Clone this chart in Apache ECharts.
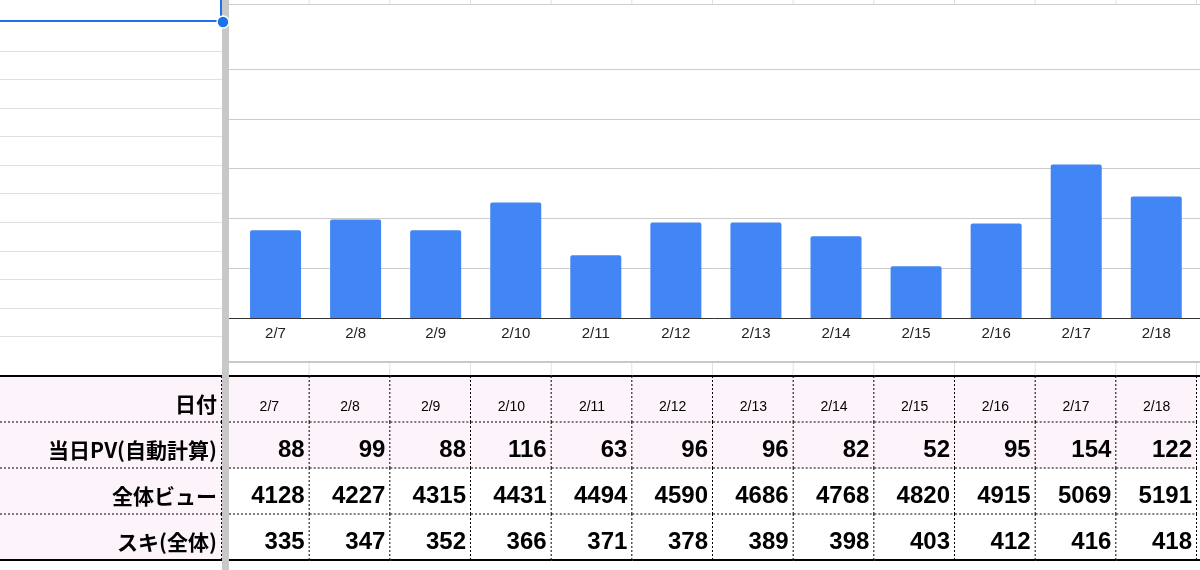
<!DOCTYPE html>
<html>
<head>
<meta charset="utf-8">
<script src="https://cdn.jsdelivr.net/npm/echarts@6.0.0/dist/echarts.min.js"></script>
<style>
  html, body { margin: 0; padding: 0; background: #fff; }
  #main { width: 1200px; height: 570px; }
</style>
</head>
<body>
<div id="main"></div>
<script>
// 日付
var dates = ['2/7', '2/8', '2/9', '2/10', '2/11', '2/12', '2/13', '2/14', '2/15', '2/16', '2/17', '2/18'];
// 当日PV(自動計算)
var dailyPV = [88, 99, 88, 116, 63, 96, 96, 82, 52, 95, 154, 122];
// 全体ビュー
var totalViews = [4128, 4227, 4315, 4431, 4494, 4590, 4686, 4768, 4820, 4915, 5069, 5191];
// スキ(全体)
var totalSuki = [335, 347, 352, 366, 371, 378, 389, 398, 403, 412, 416, 418];
// 表の行見出し
var rowLabels = ['日付', '当日PV(自動計算)', '全体ビュー', 'スキ(全体)'];
// 縦軸の目盛り (0〜250, 50刻み)
var pvTicks = [0, 50, 100, 150, 200, 250];

var tableRows = [dates, dailyPV, totalViews, totalSuki];

var PINK = '#fcf3fb';
var DIV_X = 222;      // 固定列の区切り線の位置
var DIV_W = 7;
var CJK = '"Noto Sans CJK JP", "Noto Sans", sans-serif';
var LATIN = '"Liberation Sans", Arial, sans-serif';

var myChart = echarts.init(document.getElementById('main'));

// 表のセルを描画
function renderCell(params, api) {
    var c = api.value(0);
    var r = api.value(1);
    var center = api.coord([c, r]);
    var size = api.size([1, 1]);
    var w = size[0], h = size[1];
    var x0 = center[0] - w / 2, y0 = center[1] - h / 2;
    var x1 = x0 + w, y1 = y0 + h;
    var dash = { stroke: '#000', lineWidth: 1, lineDash: [2, 2] };
    var kids = [];

    kids.push({ type: 'rect', shape: { x: x0, y: y0, width: w, height: h }, style: { fill: r < 2 ? PINK : '#fff' }, z2: 1 });
    kids.push({ type: 'line', shape: { x1: x1 - 0.5, y1: y0, x2: x1 - 0.5, y2: y1 }, style: dash, z2: 5 });
    if (r < tableRows.length - 1) {
        kids.push({ type: 'line', shape: { x1: x0, y1: y1, x2: x1, y2: y1 }, style: dash, z2: 5 });
    }

    var v = tableRows[r][c];
    if (r === 0) {
        kids.push({ type: 'text', z2: 6, style: { text: String(v), x: center[0], y: y1 - 15, align: 'center', verticalAlign: 'middle', fill: '#000', font: '14px ' + LATIN } });
        // シートの列の罫線 (グラフの上下に見える部分)
        kids.push({ type: 'line', shape: { x1: x1 - 0.5, y1: 363, x2: x1 - 0.5, y2: y0 }, style: { stroke: '#e0e0e0', lineWidth: 1 }, z2: 2 });
        kids.push({ type: 'line', shape: { x1: x1 - 0.5, y1: 0, x2: x1 - 0.5, y2: 4 }, style: { stroke: '#e0e0e0', lineWidth: 1 }, z2: 2 });
    } else {
        kids.push({ type: 'text', z2: 6, style: { text: String(v), x: x1 - 5, y: y1 - 18, align: 'right', verticalAlign: 'middle', fill: '#000', font: 'bold 24px ' + LATIN } });
    }

    if (c === 0) {
        // 行見出しの列
        kids.push({ type: 'rect', shape: { x: 0, y: y0, width: DIV_X, height: h }, style: { fill: PINK }, z2: 1 });
        kids.push({ type: 'line', shape: { x1: DIV_X - 0.5, y1: y0, x2: DIV_X - 0.5, y2: y1 }, style: dash, z2: 5 });
        if (r < tableRows.length - 1) {
            kids.push({ type: 'line', shape: { x1: 0, y1: y1, x2: DIV_X, y2: y1 }, style: dash, z2: 5 });
        }
        kids.push({ type: 'text', z2: 6, style: { text: rowLabels[r], x: DIV_X - 5, y: y1 - 18, align: 'right', verticalAlign: 'middle', fill: '#000', font: 'bold 21px ' + CJK } });
    }

    // 表の上下の太線
    if (r === 0) {
        kids.push({ type: 'line', shape: { x1: c === 0 ? 0 : x0, y1: y0, x2: c === dates.length - 1 ? 1200 : x1, y2: y0 }, style: { stroke: '#000', lineWidth: 2 }, z2: 7 });
    }
    if (r === tableRows.length - 1) {
        kids.push({ type: 'line', shape: { x1: c === 0 ? 0 : x0, y1: y1, x2: c === dates.length - 1 ? 1200 : x1, y2: y1 }, style: { stroke: '#000', lineWidth: 2 }, z2: 7 });
    }
    return { type: 'group', children: kids };
}

var cells = [];
for (var r = 0; r < tableRows.length; r++) {
    for (var c = 0; c < dates.length; c++) {
        cells.push([c, r]);
    }
}

// 左側のシート罫線
var sheetLines = [];
for (var i = 0; i < 11; i++) {
    var y = Math.round(50.7 + i * 28.55) + 0.5;
    sheetLines.push({ type: 'line', shape: { x1: 0, y1: y, x2: DIV_X, y2: y }, style: { stroke: '#e0e0e0', lineWidth: 1 }, z: 0 });
}

myChart.setOption({
    backgroundColor: '#fff',
    animation: false,
    grid: [
        // 棒グラフ
        { left: 235.5, right: 3.7, top: 69, bottom: 252 },
        // グラフの目盛線 (チャート領域全幅)
        { left: 229, right: 0, top: 69, bottom: 252 },
        // 表
        { left: 229, width: 968, top: 376, height: 184 }
    ],
    xAxis: [
        {
            gridIndex: 0, type: 'category', data: dates,
            axisLine: { show: false }, axisTick: { show: false },
            axisLabel: { color: '#222', fontSize: 15, fontFamily: LATIN, margin: 8 }
        },
        {
            gridIndex: 1, type: 'value', min: 0, max: 1,
            axisLine: { show: true, lineStyle: { color: '#333', width: 1 } },
            axisTick: { show: false }, axisLabel: { show: false }, splitLine: { show: false }
        },
        { gridIndex: 2, type: 'category', data: dates, show: false }
    ],
    yAxis: [
        { gridIndex: 0, type: 'value', min: pvTicks[0], max: pvTicks[pvTicks.length - 1], interval: pvTicks[1] - pvTicks[0], show: false },
        {
            gridIndex: 1, type: 'value', min: pvTicks[0], max: pvTicks[pvTicks.length - 1], interval: pvTicks[1] - pvTicks[0],
            axisLine: { show: false }, axisTick: { show: false }, axisLabel: { show: false },
            splitLine: { lineStyle: { color: '#cccccc', width: 1 } }
        },
        { gridIndex: 2, type: 'category', data: rowLabels, inverse: true, show: false }
    ],
    series: [
        {
            type: 'bar',
            xAxisIndex: 0, yAxisIndex: 0,
            data: dailyPV,
            barWidth: 51,
            itemStyle: { color: '#4285f4', borderRadius: [2, 2, 0, 0] },
            z: 3
        },
        {
            type: 'custom',
            xAxisIndex: 2, yAxisIndex: 2,
            renderItem: renderCell,
            data: cells,
            clip: false,
            silent: true,
            z: 4
        }
    ],
    graphic: sheetLines.concat([
        // グラフ枠の上下
        { type: 'line', shape: { x1: 229, y1: 4.5, x2: 1200, y2: 4.5 }, style: { stroke: '#d0d0d0', lineWidth: 1 }, z: 1 },
        { type: 'line', shape: { x1: 229, y1: 362, x2: 1200, y2: 362 }, style: { stroke: '#c8c8c8', lineWidth: 2 }, z: 1 },
        // 選択セル
        { type: 'line', shape: { x1: 0, y1: 21, x2: DIV_X, y2: 21 }, style: { stroke: '#1a73e8', lineWidth: 2 }, z: 20 },
        { type: 'line', shape: { x1: DIV_X - 1, y1: 0, x2: DIV_X - 1, y2: 21 }, style: { stroke: '#1a73e8', lineWidth: 2 }, z: 20 },
        // 固定列の区切り
        { type: 'rect', shape: { x: DIV_X, y: 0, width: DIV_W, height: 570 }, style: { fill: '#c8c8c8' }, z: 19 },
        { type: 'circle', shape: { cx: DIV_X + 1, cy: 22, r: 6 }, style: { fill: '#1a73e8', stroke: '#fff', lineWidth: 1.5 }, z: 21 }
    ])
});

window.addEventListener('resize', function () {
    myChart.resize();
});
</script>
</body>
</html>
